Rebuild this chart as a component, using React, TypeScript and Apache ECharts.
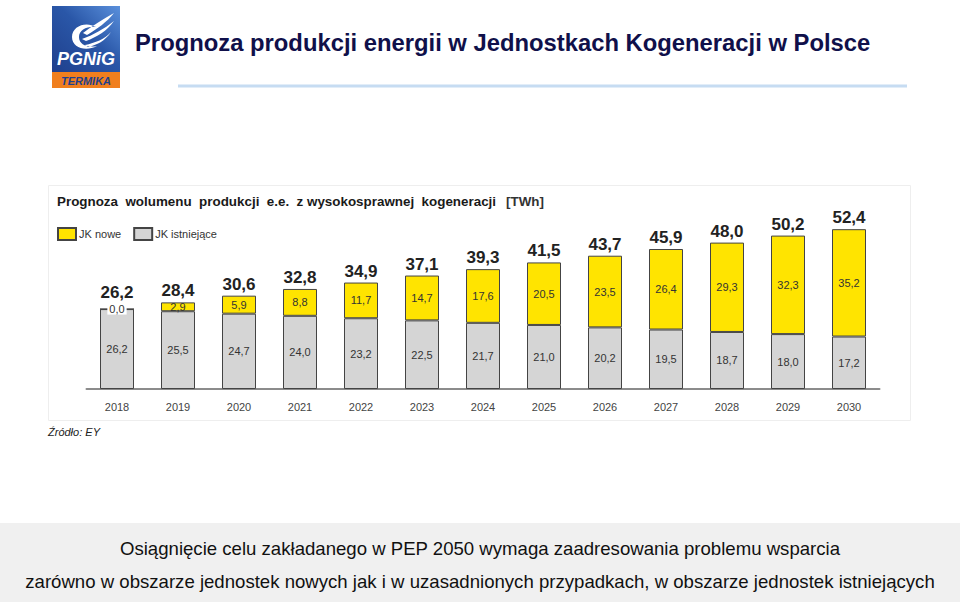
import React, { useEffect, useRef } from "react";
import * as echarts from "echarts";

const years = ["2018", "2019", "2020", "2021", "2022", "2023", "2024", "2025", "2026", "2027", "2028", "2029", "2030"];
const existingUnits = [26.2, 25.5, 24.7, 24.0, 23.2, 22.5, 21.7, 21.0, 20.2, 19.5, 18.7, 18.0, 17.2];
const newUnits = [0.0, 2.9, 5.9, 8.8, 11.7, 14.7, 17.6, 20.5, 23.5, 26.4, 29.3, 32.3, 35.2];
const totals = [26.2, 28.4, 30.6, 32.8, 34.9, 37.1, 39.3, 41.5, 43.7, 45.9, 48.0, 50.2, 52.4];
const totalAnchors = [0, 0, 0, 0, 0, 0, 0, 0, 0, 0, 0, 0, 0];

const fmt = (v: number) => v.toFixed(1).replace(".", ",");

const FONT = "Liberation Sans, Arial, sans-serif";

const flamePath =
  "M96 27 C 86 21, 72 26, 72 37 C 72 48, 86 52, 97 46 C 88 48, 79 45, 79 37 C 79 30, 87 26, 96 27 Z " +
  "M83 33 C 92 26, 103 19, 114 13 C 107 22, 97 29, 87 35 Z " +
  "M82 39 C 93 35, 104 29, 114 21 C 107 31, 97 37, 86 41 Z " +
  "M85 45 C 95 43, 105 39, 111 32 C 105 41, 97 45, 88 47 Z";

echarts.graphic.registerShape("flame", echarts.graphic.extendPath(flamePath as any, {}) as any);

export default function App() {
  const ref = useRef<HTMLDivElement>(null);
  useEffect(() => {
    if (!ref.current) return;
    const chart = echarts.init(ref.current, undefined, { renderer: "svg" });
    chart.setOption({
      animation: false,
      backgroundColor: "#ffffff",
      textStyle: { fontFamily: FONT },
      title: {
        left: 57,
        top: 192,
        padding: 0,
        text: "{b|Prognoza  wolumenu  produkcji  e.e.  z wysokosprawnej  kogeneracji}  {n|[TWh]}",
        textStyle: {
          rich: {
            b: { fontFamily: FONT, fontWeight: "bold", fontSize: 13.4, color: "#1a1a1a" },
            n: { fontFamily: FONT, fontSize: 13.4, color: "#333" },
          },
        },
      },
      legend: {
        left: 57,
        top: 227,
        padding: 0,
        data: ["JK nowe", "JK istniejące"],
        itemWidth: 18,
        itemHeight: 12,
        itemGap: 12,
        icon: "rect",
        textStyle: { fontFamily: FONT, fontSize: 11, color: "#333", padding: [0, 0, 0, -2] },
      },
      grid: { left: 86.5, width: 793, top: 206, height: 183 },
      xAxis: {
        type: "category",
        data: years,
        axisLine: { lineStyle: { color: "#8c8c8c", width: 2 } },
        axisTick: { show: false },
        axisLabel: { margin: 12, fontSize: 11, color: "#444", fontFamily: FONT },
      },
      yAxis: { type: "value", min: 0, max: 60, show: false, splitLine: { show: false } },
      series: [
        {
          name: "JK istniejące",
          type: "bar",
          stack: "s",
          barWidth: 34,
          data: existingUnits,
          itemStyle: { color: "#d5d5d5", borderColor: "#444", borderWidth: 1 },
          label: {
            show: true,
            position: "inside",
            formatter: (p: any) => fmt(p.value),
            fontSize: 11,
            color: "#333",
            fontFamily: FONT,
          },
        },
        {
          name: "JK nowe",
          type: "bar",
          stack: "s",
          barWidth: 34,
          data: newUnits.map((v) =>
            v === 0
              ? { value: v, label: { backgroundColor: "#ffffff", padding: [0, 2], lineHeight: 11 } }
              : v
          ),
          itemStyle: { color: "#ffe400", borderColor: "#444", borderWidth: 1 },
          label: {
            show: true,
            position: "inside",
            formatter: (p: any) => fmt(typeof p.value === "number" ? p.value : Number(p.value)),
            fontSize: 11,
            color: "#333",
            fontFamily: FONT,
          },
        },
        {
          name: "Suma",
          type: "bar",
          stack: "s",
          barWidth: 34,
          data: totalAnchors.map((v, i) =>
            newUnits[i] === 0 ? { value: v, label: { distance: 8 } } : v
          ),
          itemStyle: { color: "transparent", borderWidth: 0 },
          label: {
            show: true,
            position: "top",
            distance: 3,
            lineHeight: 17,
            formatter: (p: any) => fmt(totals[p.dataIndex]),
            fontSize: 17,
            fontWeight: "bold",
            color: "#222",
            fontFamily: FONT,
          },
        },
      ],
      graphic: [
        {
          type: "rect",
          z: -10,
          shape: { x: 48.5, y: 185.5, width: 862, height: 235 },
          style: { fill: "#ffffff", stroke: "#eeeeee", lineWidth: 1 },
        },
        {
          type: "rect",
          shape: { x: 52, y: 6, width: 68, height: 66 },
          style: {
            fill: new echarts.graphic.LinearGradient(1, 0, 0, 1, [
              { offset: 0, color: "#5a90dc" },
              { offset: 0.45, color: "#2a57a8" },
              { offset: 1, color: "#1f3f8c" },
            ]),
          },
        },
        {
          type: "rect",
          shape: { x: 52, y: 72, width: 68, height: 16 },
          style: { fill: "#f07f1e" },
        },
        {
          type: "flame",
          x: 0,
          y: 0,
          style: { fill: "#ffffff" },
        },
        {
          type: "text",
          x: 86,
          y: 68,
          style: {
            text: "PGNiG",
            fill: "#ffffff",
            font: "italic bold 18px " + FONT,
            textAlign: "center",
            textVerticalAlign: "bottom",
          },
        },
        {
          type: "text",
          x: 86,
          y: 80.5,
          style: {
            text: "TERMIKA",
            fill: "#1f3f8c",
            font: "italic bold 11px " + FONT,
            textAlign: "center",
            textVerticalAlign: "middle",
          },
        },
        {
          type: "text",
          x: 135,
          y: 42,
          style: {
            text: "Prognoza produkcji energii w Jednostkach Kogeneracji w Polsce",
            fill: "#10104a",
            font: "bold 23.8px " + FONT,
            textVerticalAlign: "middle",
          },
        },
        {
          type: "line",
          shape: { x1: 178, y1: 86, x2: 907, y2: 86 },
          style: { stroke: "#c6dcf2", lineWidth: 3 },
        },
        {
          type: "text",
          x: 48,
          y: 432,
          style: {
            text: "Źródło: EY",
            fill: "#222",
            font: "italic 11px " + FONT,
            textVerticalAlign: "middle",
          },
        },
        {
          type: "rect",
          shape: { x: 0, y: 523, width: 960, height: 79 },
          style: { fill: "#f0f0f0" },
        },
        {
          type: "text",
          x: 480,
          y: 548,
          style: {
            text: "Osiągnięcie celu zakładanego w PEP 2050 wymaga zaadresowania problemu wsparcia",
            fill: "#111",
            font: "18.6px " + FONT,
            textAlign: "center",
            textVerticalAlign: "middle",
          },
        },
        {
          type: "text",
          x: 480,
          y: 581,
          style: {
            text: "zarówno w obszarze jednostek nowych jak i w uzasadnionych przypadkach, w obszarze jednostek istniejących",
            fill: "#111",
            font: "18.6px " + FONT,
            textAlign: "center",
            textVerticalAlign: "middle",
          },
        },
      ],
    });
    return () => chart.dispose();
  }, []);
  return (
    <div
      ref={ref}
      style={{ position: "fixed", left: 0, top: 0, width: 960, height: 602 }}
    />
  );
}
